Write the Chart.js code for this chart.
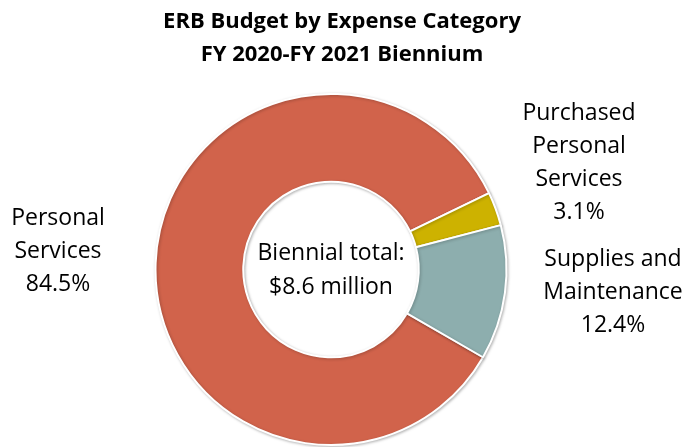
<!DOCTYPE html>
<html>
<head>
<meta charset="utf-8">
<script src="https://cdn.jsdelivr.net/npm/chart.js@4.4.1/dist/chart.umd.min.js"></script>
<style>
  html, body { margin: 0; padding: 0; background: #fff; }
  #wrap { width: 685px; height: 447px; position: relative; }
</style>
</head>
<body>
<div id="wrap"><canvas id="chart"></canvas></div>
<script>
const categories = ['Personal Services', 'Purchased Personal Services', 'Supplies and Maintenance'];
const shares = [84.5, 3.1, 12.4];
const labelLines = [
    ['Personal', 'Services', '84.5%'],
    ['Purchased', 'Personal', 'Services', '3.1%'],
    ['Supplies and', 'Maintenance', '12.4%']
];
const titleLines = ['ERB Budget by Expense Category', 'FY 2020-FY 2021 Biennium'];
const centerLines = ['Biennial total:', '$8.6 million'];

let sliceColors = ['#d1634b', '#cdb200', '#8daeae'];
let fontName = "'Open Sans', sans-serif";
// where each outside label block is centred
let labelSpots = [{x: 58, y: 251}, {x: 579, y: 163}, {x: 613, y: 292}];

const textPlugin = {
    id: 'texts',
    beforeDatasetsDraw(chart) {
        const c = chart.ctx;
        c.save();
        c.shadowColor = 'rgba(0,0,0,0.25)';
        c.shadowBlur = 3;
        c.shadowOffsetX = 1;
        c.shadowOffsetY = 1;
    },
    afterDatasetsDraw(chart) {
        chart.ctx.restore();
    },
    afterDraw(chart) {
        const c = chart.ctx;
        c.save();
        c.fillStyle = '#000';
        c.textAlign = 'center';
        c.textBaseline = 'middle';

        c.font = "bold 22px " + fontName;
        titleLines.forEach(function (t, i) { c.fillText(t, 342, 22 + i * 33); });

        const arc = chart.getDatasetMeta(0).data[0];
        c.font = "23px " + fontName;
        c.fillText(centerLines[0], arc.x, arc.y - 16);
        c.fillText(centerLines[1], arc.x, arc.y + 18);

        labelLines.forEach(function (lines, k) {
            const p = labelSpots[k];
            const top = p.y - (lines.length - 1) * 33 / 2;
            lines.forEach(function (t, i) { c.fillText(t, p.x, top + i * 33); });
        });
        c.restore();
    }
};

const ctx = document.getElementById('chart');
let mainChart = new Chart(ctx, {
    type: 'doughnut',
    data: {
        labels: categories,
        datasets: [{
            data: shares,
            backgroundColor: sliceColors,
            borderColor: '#ffffff',
            borderWidth: 2
        }]
    },
    options: {
        responsive: true,
        maintainAspectRatio: false,
        animation: false,
        rotation: 120,
        cutout: '50%',
        layout: { padding: { top: 93, bottom: 1, left: 154, right: 177 } },
        plugins: {
            legend: { display: false },
            tooltip: { enabled: false }
        }
    },
    plugins: [textPlugin]
});
</script>
</body>
</html>
